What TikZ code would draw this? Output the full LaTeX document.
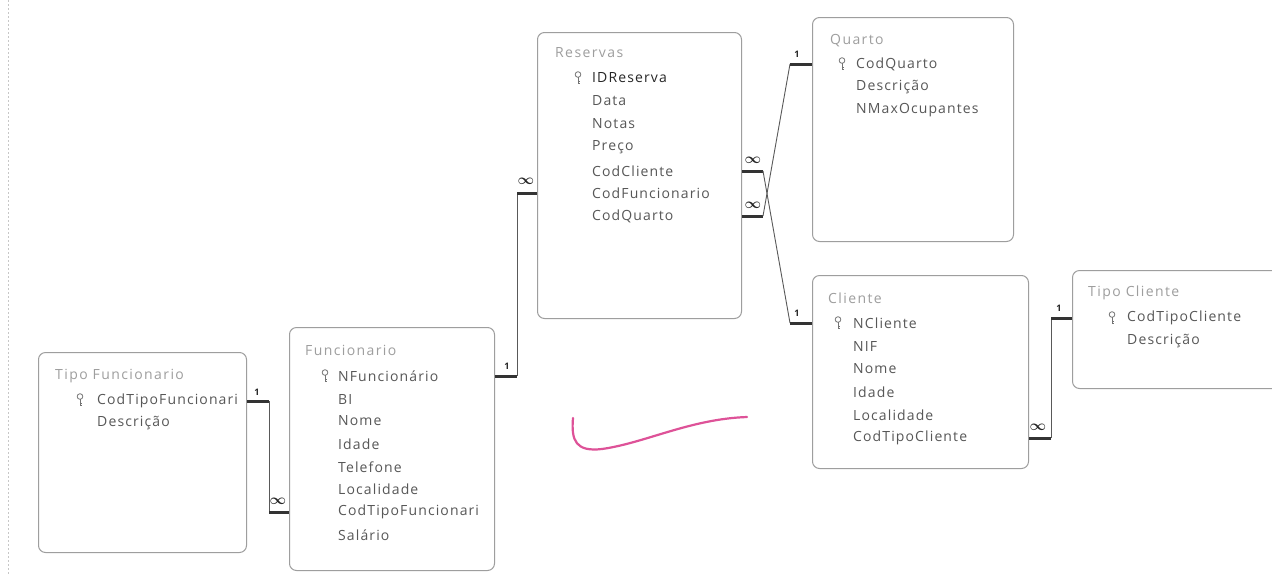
\documentclass[tikz,border=0pt]{standalone}
\usepackage{fontspec}
\setmainfont{Open Sans}
\newfontfamily\tblfont{Open Sans}[LetterSpace=8]
\newfontfamily\ttlfont{Open Sans}[LetterSpace=10]
\usetikzlibrary{calc}
\definecolor{pinkc}{RGB}{222,82,152}
\begin{document}
\begin{tikzpicture}[x=1pt,y=-1pt,
 tbl/.style={draw=black!38, line width=1pt, rounded corners=7pt, anchor=north west, inner sep=0pt},
 ttl/.style={anchor=west, inner sep=0pt, text=black!38, font=\ttlfont\fontsize{14}{14}\selectfont},
 fld/.style={anchor=west, inner sep=0pt, text=black!66, font=\tblfont\fontsize{14}{14}\selectfont},
 rel/.style={draw=black!65, line width=0.9pt},
 thk/.style={draw=black!80, line width=3pt},
 one/.style={font=\bfseries\fontsize{9}{9}\selectfont, text=black!85, inner sep=0pt},
 many/.style={font=\boldmath\fontsize{14}{14}\selectfont, text=black!85, inner sep=0pt},
 key/.pic={\draw[black!55, line width=0.8pt] (0,-3.5) circle (2.8);
           \draw[black!55, line width=0.8pt] (0,-0.7) -- (0,6) (0,3) -- (2,3) (0,5.5) -- (2,5.5);}
]
\useasboundingbox (0,0) rectangle (1272,574);
\clip (0,0) rectangle (1272,574);
\fill[white] (0,0) rectangle (1272,574);
\draw[black!22, dash pattern=on 2pt off 2pt] (8,0) -- (8,574);

% ---------- Reservas
\node[tbl, minimum width=204, minimum height=286] (res) at (537,32) {};
\node[ttl] (resT) at (555,53) {Reservas};
\pic at (578,78) {key};
\node[fld, text=black!85] (resid) at (592,78) {IDReserva};
\node[fld] (resda) at (592,101) {Data};
\node[fld] (resno) at (592,124) {Notas};
\node[fld] (respr) at (592,147) {Preço};
\node[fld] (rescc) at (592,171) {CodCliente};
\node[fld] (rescf) at (592,193) {CodFuncionario};
\node[fld] (rescq) at (592,216) {CodQuarto};

% ---------- Quarto
\node[tbl, minimum width=201, minimum height=224] (qu) at (812,17) {};
\node[ttl] (quT) at (830,41) {Quarto};
\pic at (842,64) {key};
\node[fld] (quk) at (856,64) {CodQuarto};
\node[fld] (qud) at (856,87) {Descrição};
\node[fld] (qun) at (856,110) {NMaxOcupantes};

% ---------- Tipo Funcionario
\node[tbl, minimum width=208, minimum height=200] (tf) at (38,352) {};
\node[ttl] (tfT) at (55,376) {Tipo Funcionario};
\pic at (80,400) {key};
\node[fld] (tfk) at (97,401) {CodTipoFuncionari};
\node[fld] (tfd) at (97,423) {Descrição};

% ---------- Funcionario
\node[tbl, minimum width=205, minimum height=243] (fu) at (289,327) {};
\node[ttl] (fuT) at (305,350) {Funcionario};
\pic at (325,376) {key};
\node[fld] (fuk) at (338,376) {NFuncionário};
\node[fld] (fubi) at (338,399) {BI};
\node[fld] (funo) at (338,421) {Nome};
\node[fld] (fuid) at (338,444) {Idade};
\node[fld] (fute) at (338,467) {Telefone};
\node[fld] (fulo) at (338,489) {Localidade};
\node[fld] (fucod) at (338,512) {CodTipoFuncionari};
\node[fld] (fusa) at (338,535) {Salário};

% ---------- Cliente
\node[tbl, minimum width=216, minimum height=193] (cl) at (812,275) {};
\node[ttl] (clT) at (828,298) {Cliente};
\pic at (838,323) {key};
\node[fld] (clk) at (853,323) {NCliente};
\node[fld] (clni) at (853,346) {NIF};
\node[fld] (clno) at (853,369) {Nome};
\node[fld] (clid) at (853,392) {Idade};
\node[fld] (cllo) at (853,415) {Localidade};
\node[fld] (clct) at (853,438) {CodTipoCliente};

% ---------- Tipo Cliente
\node[tbl, minimum width=230, minimum height=118] (tc) at (1072,270) {};
\node[ttl] (tcT) at (1088,293) {Tipo Cliente};
\pic at (1112,318) {key};
\node[fld] (tck) at (1127,318) {CodTipoCliente};
\node[fld] (tcd) at (1127,341) {Descrição};

% ---------- relationships
% Tipo Funcionario -> Funcionario
\draw[thk] (tf.east |- tfk) -- ++(22,0) coordinate (j1);
\draw[rel] (j1) -- (j1 |- fucod);
\draw[thk] (j1 |- fucod) -- (fu.west |- fucod);
\node[one] (l1a) at (257,392) {1};
\node[many] (l1b) at (278,501) {$\infty$};

% Funcionario -> Reservas
\draw[thk] (fu.east |- fuk) -- ++(22,0) coordinate (j2);
\draw[rel] (j2) -- (j2 |- rescf);
\draw[thk] (j2 |- rescf) -- (res.west |- rescf);
\node[one] (l2a) at (507,366) {1};
\node[many] (l2b) at (526,181) {$\infty$};

% Reservas -> Cliente
\draw[thk] (res.east |- rescc) -- ++(21,0) coordinate (j3);
\coordinate (k3) at ($(cl.west |- clk)+(-22,0)$);
\draw[rel] (j3) -- (k3);
\draw[thk] (k3) -- (cl.west |- clk);
\node[many] (l3a) at (753,160) {$\infty$};
\node[one] (l3b) at (797,313) {1};

% Reservas -> Quarto
\draw[thk] (res.east |- rescq) -- ++(21,0) coordinate (j4);
\coordinate (k4) at ($(qu.west |- quk)+(-22,0)$);
\draw[rel] (j4) -- (k4);
\draw[thk] (k4) -- (qu.west |- quk);
\node[many] (l4a) at (753,205) {$\infty$};
\node[one] (l4b) at (797,54) {1};

% Cliente -> Tipo Cliente
\draw[thk] (cl.east |- clct) -- ++(22,0) coordinate (j5);
\draw[rel] (j5) -- (j5 |- tck);
\draw[thk] (j5 |- tck) -- (tc.west |- tck);
\node[many] (l5a) at (1038,427) {$\infty$};
\node[one] (l5b) at (1059,308) {1};

% pink tick
\draw[pinkc, line width=2.2pt, line cap=round]
  (573,418) .. controls (571,441) and (576,452) .. (602,449)
  .. controls (645,443) and (690,419) .. (747,417);
\end{tikzpicture}
\end{document}
